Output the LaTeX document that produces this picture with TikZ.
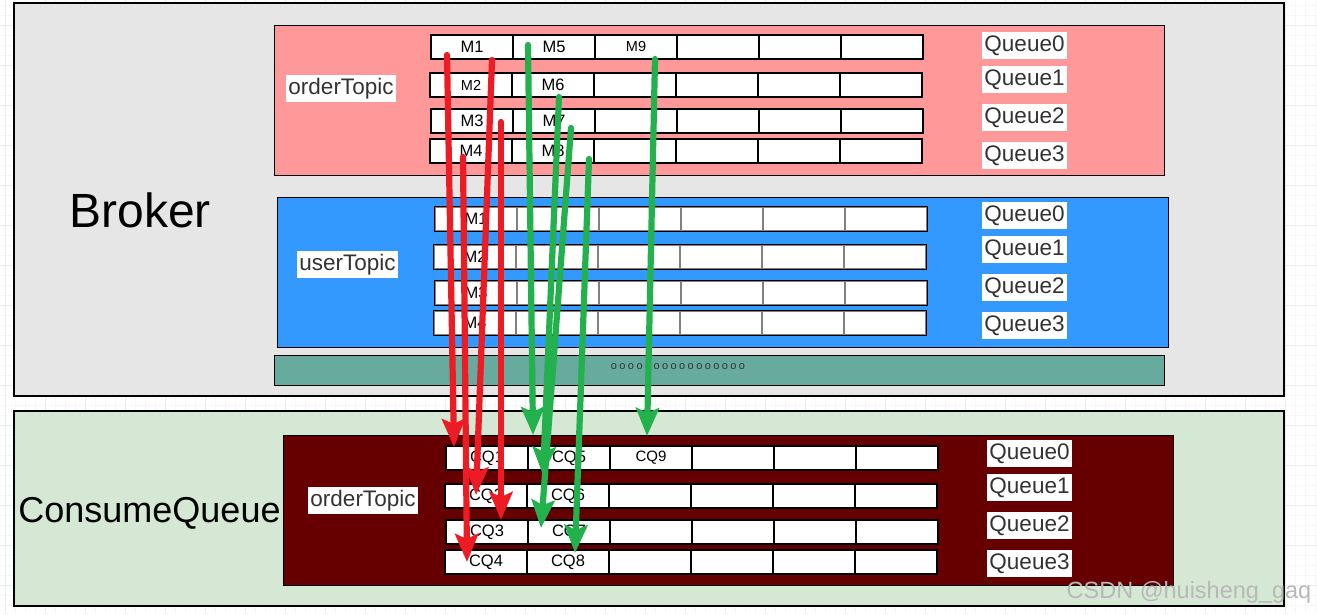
\documentclass[tikz,border=0pt]{standalone}
\usepackage{fontspec}
\setmainfont{Liberation Sans}
\usetikzlibrary{arrows.meta}
\definecolor{brkGrey}{HTML}{E6E6E6}
\definecolor{cqGreen}{HTML}{D5E8D4}
\definecolor{topicPink}{HTML}{FF9999}
\definecolor{topicBlue}{HTML}{3399FF}
\definecolor{bandTeal}{HTML}{67AB9F}
\definecolor{cqRed}{HTML}{660000}
\definecolor{lblGrey}{HTML}{333333}
\definecolor{arrRed}{HTML}{ED1C24}
\definecolor{arrGreen}{HTML}{22B14C}
\newcommand{\fs}[1]{\fontsize{#1}{#1}\selectfont}
\tikzset{
  area/.style={draw=black, line width=1.2pt},
  topic/.style={draw=black, line width=1pt},
  cell/.style={draw=black, fill=white, line width=1.1pt, minimum width=82pt,
               minimum height=24pt, inner sep=0pt, font=\fs{16.5}},
  ucell/.style={cell, draw=black!50},
  qlbl/.style={fill=white, text=lblGrey, inner sep=2pt, font=\fs{22.5},
               minimum height=27pt},
  big/.style={font=\fs{48}},
  mred/.style={draw=arrRed, line width=6.2pt, line cap=round,
               -{Stealth[length=28pt, width=23pt, inset=5pt]}},
  mgreen/.style={mred, draw=arrGreen},
}
% one row of six queue cells: name, left x, top y, labels
\newcommand{\cellrow}[5][cell]{%
  \foreach \t [count=\i from 0] in {#5}{
    \node[#1] (#2\i) at ({#3+41+82*\i},{#4+12}) {\t};}}

\begin{document}
\begin{tikzpicture}[x=1pt, y=-1pt]
  \useasboundingbox (0,0) rectangle (1317,614);
  % grid paper
  \foreach \g in {5,15,...,1315}{\draw[black!3, line width=0.6pt] (\g,0) -- (\g,614);}
  \foreach \g in {5,15,...,605}{\draw[black!3, line width=0.6pt] (0,\g) -- (1317,\g);}
  \foreach \g in {5,45,...,1315}{\draw[black!7, line width=0.8pt] (\g,0) -- (\g,614);}
  \foreach \g in {25,65,...,605}{\draw[black!7, line width=0.8pt] (0,\g) -- (1317,\g);}

  % Broker
  \draw[area, fill=brkGrey] (14,3) rectangle (1284,396);
  \node[big] (broker) at (140,210) {Broker};
  \draw[topic, fill=topicPink] (274,25) rectangle (1164,175);
  \draw[topic, fill=topicBlue] (277,197) rectangle (1168,347);
  \draw[topic, fill=bandTeal] (274,355) rectangle (1164,385);
  \node[font=\fs{11}, text=lblGrey] (dots) at (678,367)
       {\addfontfeatures{LetterSpace=22}oooooooooooooooo};

  \node[qlbl] (ot) at (341,88.5) {orderTopic};
  \cellrow{oa}{431}{35}{M1,M5,{\fs{14.5}M9},,,}
  \cellrow{ob}{430}{73}{{\fs{14.5}M2},M6,,,,}
  \cellrow{oc}{431}{109}{M3,M7,,,,}
  \cellrow{od}{430}{139}{M4,M8,,,,}
  \foreach \q/\y in {0/45.5,1/79.5,2/117.5,3/155.5}{
    \node[qlbl] (oq\q) at (1024.5,\y) {Queue\q};}

  \node[qlbl] (ut) at (347.5,264.5) {userTopic};
  \cellrow[ucell]{ua}{435}{207}{M1,,,,,}
  \cellrow[ucell]{ub}{434}{245}{M2,,,,,}
  \cellrow[ucell]{uc}{435}{281}{M3,,,,,}
  \cellrow[ucell]{ud}{434}{311}{M4,,,,,}
  \foreach \r in {ua,ub,uc,ud}{
    \draw[black, line width=1.1pt] (\r0.north west) rectangle (\r5.south east);}
  \foreach \q/\y in {0/215.5,1/249.5,2/287.5,3/325.5}{
    \node[qlbl] (uq\q) at (1024.5,\y) {Queue\q};}

  % ConsumeQueue
  \draw[area, fill=cqGreen] (14,411) rectangle (1284,606);
  \node[font=\fs{36}] (consume) at (149.5,513) {ConsumeQueue};
  \draw[topic, fill=cqRed] (283,435) rectangle (1173,585);
  \node[qlbl] (ct) at (363,500.5) {orderTopic};
  \cellrow{ca}{446}{446}{CQ1,CQ5,{\fs{15}CQ9},,,}
  \cellrow{cb}{445}{484}{CQ2,CQ6,,,,}
  \cellrow{cc}{446}{520}{CQ3,CQ7,,,,}
  \cellrow{cd}{445}{550}{CQ4,CQ8,,,,}
  \foreach \q/\y in {0/453.5,1/487.5,2/525.5,3/563.5}{
    \node[qlbl] (cq\q) at (1029.5,\y) {Queue\q};}

  % message -> consume queue
  \coordinate (r1s) at (447,55);   \coordinate (r1e) at (454,447);
  \coordinate (r2s) at (492,60);   \coordinate (r2e) at (476,495);
  \coordinate (r3s) at (501,122);  \coordinate (r3e) at (501,520);
  \coordinate (r4s) at (463,157);  \coordinate (r4e) at (467,562);
  \coordinate (g1s) at (528,45);   \coordinate (g1e) at (533,435);
  \coordinate (g2s) at (559,97);   \coordinate (g2e) at (543,475);
  \coordinate (g3s) at (571,128);  \coordinate (g3e) at (541,528);
  \coordinate (g4s) at (589,159);  \coordinate (g4e) at (575,553);
  \coordinate (g5s) at (655,59);   \coordinate (g5e) at (647,436);
  \foreach \a in {1,...,4}{\draw[mred] (r\a s) -- (r\a e);}
  \foreach \a in {1,...,5}{\draw[mgreen] (g\a s) -- (g\a e);}

  \node[font=\fs{23.5}, text=black!28] (mark) at (1189,592) {CSDN @huisheng\_gaq};
\end{tikzpicture}
\end{document}
